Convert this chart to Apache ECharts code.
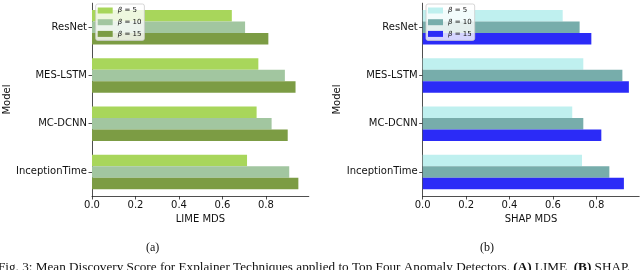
<!DOCTYPE html>
<html><head><meta charset="utf-8">
<script src="https://cdn.jsdelivr.net/npm/echarts@6/dist/echarts.min.js"></script>
<style>html,body{margin:0;padding:0;background:#fff}#c{width:640px;height:270px}</style>
</head><body><div id="c"></div>
<script>
const categories = ['ResNet', 'MES-LSTM', 'MC-DCNN', 'InceptionTime'];
const betaLabels = ['β = 5', 'β = 10', 'β = 15'];
const limeB5 = [0.643, 0.765, 0.757, 0.713];
const limeB10 = [0.704, 0.887, 0.826, 0.907];
const limeB15 = [0.811, 0.936, 0.900, 0.949];
const shapB5 = [0.645, 0.740, 0.689, 0.734];
const shapB10 = [0.723, 0.920, 0.740, 0.860];
const shapB15 = [0.777, 0.950, 0.823, 0.927];
const xTicks = [0, 0.2, 0.4, 0.6, 0.8];

const limeColors = ['#a8d65b', '#a2c6a0', '#7c9c44'];
const shapColors = ['#bff0ef', '#77adab', '#2b2bf7'];

const chart = echarts.init(document.getElementById('c'), null, {renderer: 'canvas'});
const FONT = 'DejaVu Sans';

function xAxisCfg(gi, name, max) {
  return {
    type: 'value', gridIndex: gi, min: 0, max: max,
    interval: 0.2,
    name: name, nameLocation: 'middle', nameGap: 16,
    nameTextStyle: {fontFamily: FONT, fontSize: 10, color: '#111'},
    axisLine: {show: true, lineStyle: {color: '#222', width: 0.8}},
    axisTick: {show: true, length: 3.5, lineStyle: {color: '#222', width: 0.8}, customValues: xTicks},
    axisLabel: {fontFamily: FONT, fontSize: 10, color: '#111', margin: 4, customValues: xTicks,
      formatter: v => v.toFixed(1)},
    splitLine: {show: false}
  };
}
function yAxisCfg(gi) {
  return {
    type: 'category', gridIndex: gi, data: categories, inverse: true,
    name: 'Model', nameLocation: 'middle', nameGap: 79, nameRotate: 90,
    nameTextStyle: {fontFamily: FONT, fontSize: 10, color: '#111'},
    axisLine: {show: true, lineStyle: {color: '#222', width: 0.8}},
    axisTick: {show: true, alignWithLabel: true, length: 3.5, lineStyle: {color: '#222', width: 0.8}},
    axisLabel: {fontFamily: FONT, fontSize: 10, color: '#111', margin: 5}
  };
}
function legendCfg(left, colors) {
  return {
    orient: 'vertical', left: left, top: 4,
    itemWidth: 15, itemHeight: 6, itemGap: 2.7,
    padding: [2, 3, 2, 2],
    backgroundColor: 'rgba(255,255,255,0.8)', borderColor: '#cccccc', borderWidth: 0.8, borderRadius: 2,
    data: betaLabels.map((n, i) => ({name: n, itemStyle: {color: colors[i]}, icon: 'rect'})),
    formatter: n => '{b|β} = ' + n.split('= ')[1],
    textStyle: {fontFamily: FONT, fontSize: 7, lineHeight: 9, color: '#111',
      rich: {b: {fontStyle: 'italic', fontFamily: FONT, fontSize: 7, color: '#111'}}},
    selectedMode: false
  };
}
function barSeries(name, data, xi, color) {
  return {type: 'bar', name: name, xAxisIndex: xi, yAxisIndex: xi, data: data,
    barWidth: 11.5, barGap: '0%', itemStyle: {color: color}, silent: true};
}

chart.setOption({
  animation: false,
  grid: [
    {left: 92, top: 3.2, width: 216.8, height: 192.8},
    {left: 422.7, top: 3.2, width: 216.5, height: 192.8}
  ],
  xAxis: [xAxisCfg(0, 'LIME MDS', 0.997), xAxisCfg(1, 'SHAP MDS', 0.9975)],
  yAxis: [yAxisCfg(0), yAxisCfg(1)],
  legend: [legendCfg(95.7, limeColors), legendCfg(426, shapColors)],
  series: [
    barSeries(betaLabels[0], limeB5, 0, limeColors[0]),
    barSeries(betaLabels[1], limeB10, 0, limeColors[1]),
    barSeries(betaLabels[2], limeB15, 0, limeColors[2]),
    barSeries(betaLabels[0], shapB5, 1, shapColors[0]),
    barSeries(betaLabels[1], shapB10, 1, shapColors[1]),
    barSeries(betaLabels[2], shapB15, 1, shapColors[2])
  ],
  graphic: [
    {type: 'text', left: 146, top: 242, style: {text: '(a)', font: '12px "Liberation Serif"', fill: '#111'}},
    {type: 'text', left: 480, top: 242, style: {text: '(b)', font: '12px "Liberation Serif"', fill: '#111'}},
    {type: 'text', left: -2, top: 261, style: {
      text: 'Fig. 3: Mean Discovery Score for Explainer Techniques applied to Top Four Anomaly Detectors. {bo|(A)} LIME, {bo|(B)} SHAP.',
      font: '13.2px "Liberation Serif"', fill: '#111',
      rich: {bo: {fontWeight: 'bold', fontFamily: 'Liberation Serif', fontSize: 13.2, fill: '#111'}}}}
  ]
});
</script></body></html>
